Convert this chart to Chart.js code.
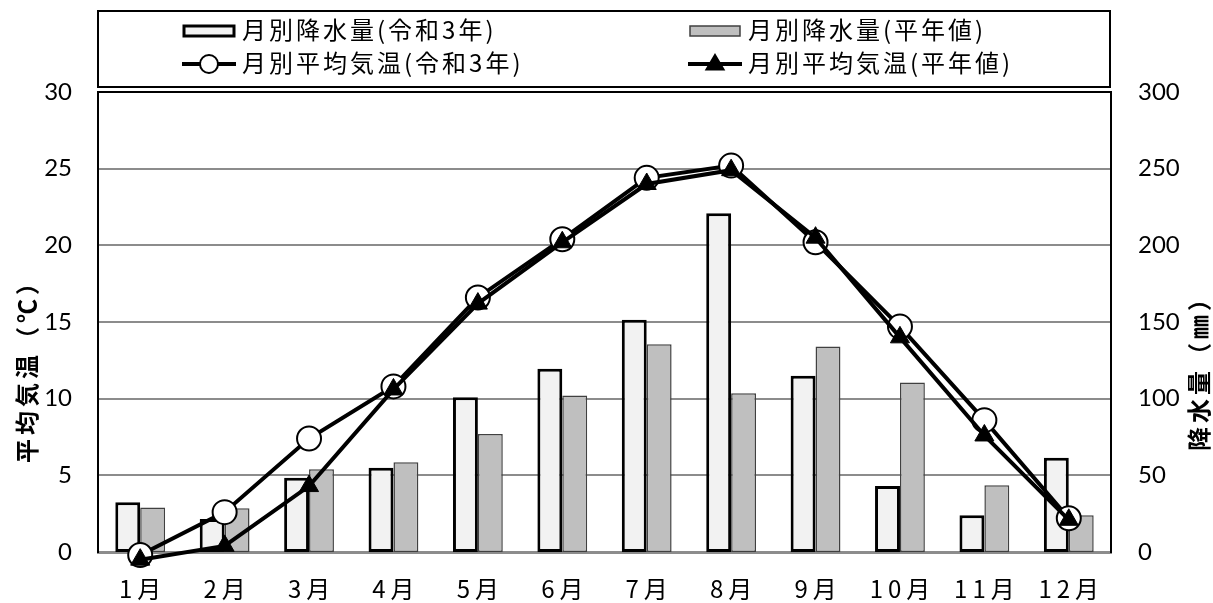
<!DOCTYPE html>
<html lang="ja">
<head>
<meta charset="utf-8">
<title>月別降水量・平均気温</title>
<script src="https://cdn.jsdelivr.net/npm/chart.js@4/dist/chart.umd.min.js"></script>
<style>
  html, body { margin: 0; padding: 0; background: #fff; }
  #wrap { width: 1213px; height: 603px; }
</style>
</head>
<body>
<div id="wrap"><canvas id="c" width="1213" height="603"></canvas></div>
<script>
// 月
const months = ['1月', '2月', '3月', '4月', '5月', '6月', '7月', '8月', '9月', '10月', '11月', '12月'];
// 月別降水量 (mm)
const rainR3 = [32.5, 21.5, 48.5, 55, 101, 119.5, 151.5, 221, 115, 43, 24, 61.5];
const rainNormal = [29, 28.5, 54, 58.5, 77, 102, 135.5, 103.5, 134, 110.5, 43.5, 24];
// 月別平均気温 (℃)
const tempR3 = [-0.2, 2.6, 7.4, 10.8, 16.6, 20.4, 24.4, 25.2, 20.2, 14.7, 8.6, 2.2];
const tempNormal = [-0.5, 0.4, 4.3, 10.6, 16.2, 20.2, 24.0, 24.9, 20.5, 14.0, 7.6, 2.1];
// 軸の目盛り
const tempTicks = [0, 5, 10, 15, 20, 25, 30];
const rainTicks = [0, 50, 100, 150, 200, 250, 300];

const JP = '"Noto Sans CJK JP", "Noto Sans", sans-serif';
const NUM = 'Lato, "Liberation Sans", sans-serif';

// 凡例・軸タイトル・月ラベル・上枠線
const decorations = {
  id: 'decorations',
  afterDraw(chart) {
    const { ctx, chartArea: a, scales } = chart;
    ctx.save();

    // プロット領域の上枠
    ctx.strokeStyle = '#000';
    ctx.lineWidth = 2;
    ctx.beginPath();
    ctx.moveTo(a.left - 1, a.top);
    ctx.lineTo(a.right + 1, a.top);
    ctx.stroke();

    // 月ラベル
    ctx.fillStyle = '#000';
    ctx.font = '24px ' + JP;
    ctx.letterSpacing = '5px';
    ctx.textAlign = 'center';
    ctx.textBaseline = 'middle';
    months.forEach((m, i) => {
      ctx.fillText(m, scales.x.getPixelForValue(i) + 2.5, 589);
    });

    // 軸タイトル
    ctx.font = 'bold 24px ' + JP;
    ctx.letterSpacing = '4px';
    ctx.save();
    ctx.translate(27, 365);
    ctx.rotate(-Math.PI / 2);
    ctx.fillText('平均気温（℃）', 0, 0);
    ctx.restore();
    ctx.save();
    ctx.translate(1199, 367);
    ctx.rotate(-Math.PI / 2);
    ctx.fillText('降水量（㎜）', 0, 0);
    ctx.restore();

    // 凡例枠
    ctx.letterSpacing = '0px';
    ctx.lineWidth = 2;
    ctx.strokeStyle = '#000';
    ctx.strokeRect(98, 11, 1012, 76);

    const ds = chart.data.datasets;
    const cols = [184, 690];
    const rows = [31, 64];
    ctx.font = '24px ' + JP;
    ctx.letterSpacing = '3px';
    ctx.textAlign = 'left';
    ds.forEach((d, i) => {
      const x = cols[i % 2];
      const y = rows[Math.floor(i / 2)];
      if (d.type === 'bar') {
        ctx.fillStyle = d.backgroundColor;
        ctx.fillRect(x, y - 5, 50, 10);
        ctx.lineWidth = d.borderWidth;
        ctx.strokeStyle = d.borderColor;
        ctx.strokeRect(x, y - 5, 50, 10);
      } else {
        ctx.strokeStyle = d.borderColor;
        ctx.lineWidth = 4;
        ctx.beginPath();
        ctx.moveTo(x - 2, y);
        ctx.lineTo(x + 52, y);
        ctx.stroke();
        ctx.fillStyle = d.pointBackgroundColor;
        ctx.strokeStyle = d.pointBorderColor;
        ctx.lineWidth = 2;
        ctx.beginPath();
        if (d.pointStyle === 'triangle') {
          const r = 9;
          ctx.moveTo(x + 25, y - r);
          ctx.lineTo(x + 25 + r * 0.95, y + r * 0.6);
          ctx.lineTo(x + 25 - r * 0.95, y + r * 0.6);
          ctx.closePath();
        } else {
          ctx.arc(x + 25, y, 9, 0, Math.PI * 2);
        }
        ctx.fill();
        ctx.stroke();
      }
      ctx.fillStyle = '#000';
      ctx.textBaseline = 'middle';
      ctx.fillText(d.label, x + 58, y - 1);
    });

    ctx.restore();
  }
};

new Chart(document.getElementById('c'), {
  data: {
    labels: months,
    datasets: [
      {
        type: 'bar',
        label: '月別降水量(令和3年)',
        data: rainR3,
        yAxisID: 'y1',
        backgroundColor: '#f2f2f2',
        borderColor: '#000000',
        borderWidth: 3,
        borderSkipped: false,
        categoryPercentage: 0.59,
        barPercentage: 1.0,
        order: 3
      },
      {
        type: 'bar',
        label: '月別降水量(平年値)',
        data: rainNormal,
        yAxisID: 'y1',
        backgroundColor: '#bfbfbf',
        borderColor: '#404040',
        borderWidth: 1.5,
        borderSkipped: false,
        categoryPercentage: 0.59,
        barPercentage: 1.0,
        order: 3
      },
      {
        type: 'line',
        label: '月別平均気温(令和3年)',
        data: tempR3,
        yAxisID: 'y',
        borderColor: '#000000',
        borderWidth: 4,
        tension: 0,
        pointStyle: 'circle',
        pointRadius: 12,
        pointBackgroundColor: '#ffffff',
        pointBorderColor: '#000000',
        pointBorderWidth: 2,
        clip: false,
        order: 2
      },
      {
        type: 'line',
        label: '月別平均気温(平年値)',
        data: tempNormal,
        yAxisID: 'y',
        borderColor: '#000000',
        borderWidth: 4,
        tension: 0,
        pointStyle: 'triangle',
        pointRadius: 11,
        pointBackgroundColor: '#000000',
        pointBorderColor: '#000000',
        pointBorderWidth: 1,
        clip: false,
        order: 1
      }
    ]
  },
  options: {
    responsive: false,
    animation: false,
    devicePixelRatio: 1,
    layout: { padding: { top: 92, left: 0, right: 0, bottom: 0 } },
    plugins: {
      legend: { display: false },
      tooltip: { enabled: false },
      title: { display: false }
    },
    scales: {
      x: {
        type: 'category',
        position: 'bottom',
        grid: { display: false, drawTicks: false },
        border: { color: '#8c8c8c', width: 3 },
        ticks: { display: false },
        afterFit(s) { s.height = 51; }
      },
      y: {
        position: 'left',
        min: 0,
        max: 30,
        afterBuildTicks(s) { s.ticks = tempTicks.map(v => ({ value: v })); },
        grid: { color: '#8c8c8c', lineWidth: 2, drawTicks: false },
        border: { color: '#000000', width: 2 },
        ticks: {
          padding: 26,
          color: '#000',
          font: { family: NUM, size: 24 }
        },
        afterFit(s) { s.width = 98; }
      },
      y1: {
        position: 'right',
        min: 0,
        max: 300,
        afterBuildTicks(s) { s.ticks = rainTicks.map(v => ({ value: v })); },
        grid: { display: false, drawTicks: false },
        border: { color: '#000000', width: 2 },
        ticks: {
          padding: 27,
          color: '#000',
          font: { family: NUM, size: 24 }
        },
        afterFit(s) { s.width = 102; }
      }
    }
  },
  plugins: [decorations]
});
</script>
</body>
</html>
